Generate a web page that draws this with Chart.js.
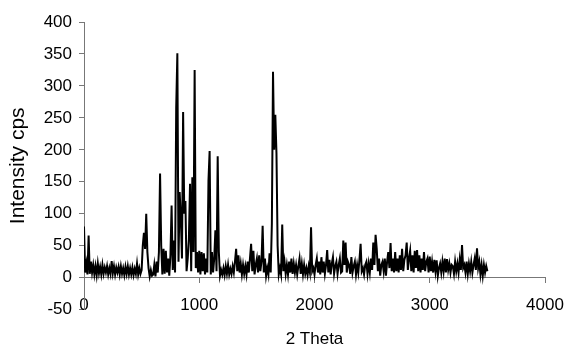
<!DOCTYPE html>
<html><head><meta charset="utf-8">
<script src="https://cdn.jsdelivr.net/npm/chart.js@4"></script>
<style>html,body{margin:0;padding:0;background:#fff}#wrap{width:565px;height:353px}</style>
</head><body><div id="wrap"><canvas id="c" width="565" height="353"></canvas></div>
<script>
const twoTheta = [
0,10,20,30,40,50,60,70,80,90,
100,110,120,130,140,150,160,170,180,190,
200,210,220,230,240,250,260,270,280,290,
300,310,320,330,340,350,360,370,380,390,
400,410,420,430,440,450,460,470,480,490,
500,510,520,530,540,550,560,570,580,590,
600,610,620,630,640,650,660,670,680,690,
700,710,720,730,740,750,760,770,780,790,
800,810,820,830,840,850,860,870,880,890,
900,910,920,930,940,950,960,970,980,990,
1000,1010,1020,1030,1040,1050,1060,1070,1080,1090,
1100,1110,1120,1130,1140,1150,1160,1170,1180,1190,
1200,1210,1220,1230,1240,1250,1260,1270,1280,1290,
1300,1310,1320,1330,1340,1350,1360,1370,1380,1390,
1400,1410,1420,1430,1440,1450,1460,1470,1480,1490,
1500,1510,1520,1530,1540,1550,1560,1570,1580,1590,
1600,1610,1620,1630,1640,1650,1660,1670,1680,1690,
1700,1710,1720,1730,1740,1750,1760,1770,1780,1790,
1800,1810,1820,1830,1840,1850,1860,1870,1880,1890,
1900,1910,1920,1930,1940,1950,1960,1970,1980,1990,
2000,2010,2020,2030,2040,2050,2060,2070,2080,2090,
2100,2110,2120,2130,2140,2150,2160,2170,2180,2190,
2200,2210,2220,2230,2240,2250,2260,2270,2280,2290,
2300,2310,2320,2330,2340,2350,2360,2370,2380,2390,
2400,2410,2420,2430,2440,2450,2460,2470,2480,2490,
2500,2510,2520,2530,2540,2550,2560,2570,2580,2590,
2600,2610,2620,2630,2640,2650,2660,2670,2680,2690,
2700,2710,2720,2730,2740,2750,2760,2770,2780,2790,
2800,2810,2820,2830,2840,2850,2860,2870,2880,2890,
2900,2910,2920,2930,2940,2950,2960,2970,2980,2990,
3000,3010,3020,3030,3040,3050,3060,3070,3080,3090,
3100,3110,3120,3130,3140,3150,3160,3170,3180,3190,
3200,3210,3220,3230,3240,3250,3260,3270,3280,3290,
3300,3310,3320,3330,3340,3350,3360,3370,3380,3390,
3400,3410,3420,3430,3440,3450,3460,3470,3480,3490,
3500
];
const intensity = [
80,8,22,5,66,6,25,8,20,5,
18,4,22,7,17,5,20,6,16,8,
18,5,15,6,26,7,18,5,16,8,
17,5,18,6,15,4,17,6,18,5,
15,5,16,4,14,6,22,5,15,6,
12,50,70,45,100,40,15,2,12,3,
5,20,2,25,8,40,163,50,5,45,
6,42,8,30,3,35,113,12,58,8,
266,351,25,134,95,30,259,100,120,10,
30,60,147,10,157,40,325,15,40,8,
42,5,40,10,38,5,30,8,152,198,
5,40,8,30,74,10,190,40,3,12,
5,15,4,18,6,20,5,14,6,18,
8,25,45,10,35,8,22,5,20,6,
18,5,25,8,30,53,10,42,5,20,
30,8,35,10,25,81,8,30,3,15,
5,38,8,84,322,200,255,195,50,5,
15,5,83,10,25,6,20,5,25,8,
30,6,22,8,20,5,18,30,6,22,
5,20,6,15,4,18,8,79,10,15,
5,20,30,8,25,5,32,8,25,6,
20,43,8,28,5,22,32,6,18,25,
6,20,30,8,10,58,20,55,8,25,
20,6,32,8,18,25,5,20,8,28,
53,10,15,5,20,25,6,22,8,30,
12,55,20,67,45,10,30,3,20,25,
10,30,3,25,40,15,54,10,30,8,
40,10,30,8,35,12,45,10,28,35,
55,12,30,42,10,35,8,42,15,43,
10,35,8,30,12,40,10,25,30,8,
33,10,25,8,28,10,27,3,15,22,
8,25,10,30,8,29,12,22,8,20,
18,6,25,10,22,8,28,12,51,15,
20,8,25,6,22,10,25,8,20,30,
12,46,15,25,5,20,3,20,8,18,
10
];
const xTickValues = [0, 1000, 2000, 3000, 4000];
const yTickValues = [-50, 0, 50, 100, 150, 200, 250, 300, 350, 400];
const xTitle = '2 Theta';
const yTitle = 'Intensity cps';

const FONT = 'Liberation Sans, Arial, sans-serif';
const axisColor = '#777';

new Chart(document.getElementById('c').getContext('2d'), {
  type: 'line',
  data: {
    datasets: [{
      data: twoTheta.map((x, i) => ({ x: x, y: intensity[i] })),
      borderColor: '#000',
      borderWidth: 2,
      pointRadius: 0,
      tension: 0,
      fill: false
    }]
  },
  options: {
    responsive: false,
    animation: false,
    devicePixelRatio: 1,
    layout: { padding: { top: 22, right: 20, left: 0, bottom: 0 } },
    plugins: {
      legend: { display: false },
      tooltip: { enabled: false },
      title: {
        display: true, text: xTitle, position: 'bottom', fullSize: false,
        color: '#000', font: { family: FONT, size: 17, weight: 'normal' },
        padding: { top: 20, bottom: 3 }
      }
    },
    scales: {
      x: {
        type: 'linear', min: 0, max: 4000, position: { y: 0 },
        afterBuildTicks: s => { s.ticks = xTickValues.map(v => ({ value: v })); },
        afterFit: s => { s.paddingLeft = 0; s.paddingRight = 0; },
        ticks: { color: '#000', font: { family: FONT, size: 17 }, padding: 12, maxRotation: 0, autoSkip: false,
                 callback: v => String(v) },
        grid: { drawOnChartArea: false, drawTicks: true, tickLength: 5, color: axisColor },
        border: { display: true, color: axisColor, width: 1 }
      },
      y: {
        type: 'linear', min: -50, max: 400,
        afterBuildTicks: s => { s.ticks = yTickValues.map(v => ({ value: v })); },
        afterFit: s => { s.width = 84; },
        ticks: { color: '#000', font: { family: FONT, size: 17 }, padding: 7, callback: v => String(v) },
        grid: { drawOnChartArea: false, drawTicks: true, tickLength: 5, color: axisColor },
        border: { display: true, color: axisColor, width: 1 },
        title: { display: true, text: yTitle, color: '#000', font: { family: FONT, size: 21, weight: 'normal' }, padding: { top: 6, bottom: 0 } }
      }
    }
  }
});
</script>
</body></html>
